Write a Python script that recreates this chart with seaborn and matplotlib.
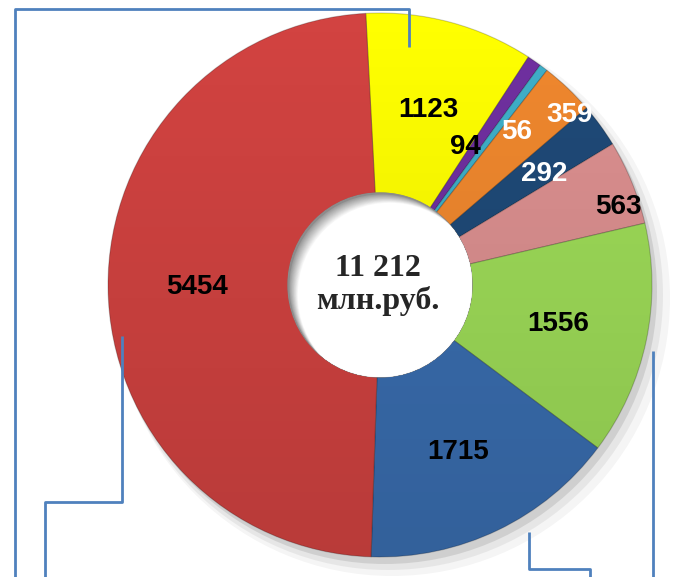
import numpy as np
import seaborn as sns
import matplotlib.pyplot as plt
from matplotlib.patches import Circle

# data, clockwise from 12 o'clock
values = [1123, 94, 56, 359, 292, 563, 1556, 1715, 5454]
labels = [str(v) for v in values]
total_text = "11 212\nмлн.руб."

colors = ["#FFFF00", "#7030A0", "#3FB0C9", "#F0882E", "#1F4A78",
          "#DC9090", "#9EDC58", "#3A6EB0", "#D24341"]
label_colors = ["black", "black", "white", "white", "white",
                "black", "black", "black", "black"]
# label centres in pixel coords (x, y from top)
label_pos = [(428, 110), (465, 147), (517, 132), (570, 115), (544, 174),
             (618, 207), (558, 324), (458, 452), (197, 287)]

W, H = 673, 577
sns.set_theme(style="white")
pal = sns.color_palette(colors)

fig = plt.figure(figsize=(W / 100, H / 100), dpi=100)
ax = fig.add_axes([0, 0, 1, 1])

cx, cy = 380, H - 285
r_out, r_in = 272, 92

# soft shadow behind the ring
for dx, dy, a, extra in [(12, -13, 0.08, 6), (8, -10, 0.12, 3), (5, -7, 0.22, 0)]:
    ax.add_patch(Circle((cx + dx, cy + dy), r_out + extra, color="#808080",
                        alpha=a, lw=0, zorder=0))

wedges, _ = ax.pie(values, colors=pal, startangle=93, counterclock=False,
                   center=(cx, cy), radius=r_out, frame=True,
                   wedgeprops=dict(width=r_out - r_in, edgecolor="#00000035", linewidth=0.8))
for w in wedges:
    w.set_zorder(2)

# slight top-to-bottom darkening over the ring
ring_clip = Circle((cx, cy), r_out, transform=ax.transData)
grad = np.linspace(0, 1, 256).reshape(-1, 1)
shade = np.zeros((256, 1, 4))
shade[..., 3] = 0.12 * grad
ax.imshow(shade, extent=(cx - r_out, cx + r_out, cy - r_out, cy + r_out),
          origin="upper", aspect="auto", zorder=2.5, clip_path=ring_clip)

# hole with inner shadow on the upper-left edge
hole = Circle((cx, cy), r_in, transform=ax.transData)
ax.add_patch(Circle((cx, cy), r_in, color="#8c8c8c", zorder=3))
steps = 14
for k in range(steps):
    t = (k + 1) / steps
    g = 0.58 + 0.42 * t
    s = 1 + 12 * t
    c = Circle((cx + s * 0.75, cy - s * 0.75), r_in, color=(g, g, g),
               zorder=3.1 + k * 0.01, lw=0)
    ax.add_patch(c)
    c.set_clip_path(hole)

ax.set_xlim(0, W)
ax.set_ylim(0, H)
ax.set_aspect("equal")
ax.axis("off")

for lab, (x, y), c in zip(labels, label_pos, label_colors):
    ax.text(x, H - y, lab, ha="center", va="center", fontsize=20,
            fontweight="bold", color=c, family="Liberation Sans", zorder=5)

ax.text(cx - 2, H - 285, total_text, ha="center", va="center", fontsize=23,
        fontweight="bold", family="Liberation Serif", linespacing=1.15, zorder=5)

# callout frame lines
line_c = "#4F81BD"
paths = [
    [(15, 577), (15, 9), (409, 9), (409, 47)],
    [(122, 336), (122, 502), (45, 502), (45, 577)],
    [(653, 351), (653, 577)],
    [(529, 532), (529, 569), (590, 569), (590, 577)],
]
for p in paths:
    xs = [q[0] for q in p]
    ys = [H - q[1] for q in p]
    ax.plot(xs, ys, color=line_c, lw=2, solid_capstyle="butt", zorder=6)

fig.savefig("out.png", dpi=100)
